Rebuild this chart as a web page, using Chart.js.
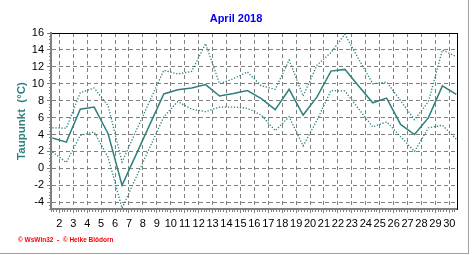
<!DOCTYPE html>
<html><head><meta charset="utf-8">
<script src="https://cdn.jsdelivr.net/npm/chart.js@4/dist/chart.umd.min.js"></script>
<style>
html,body{margin:0;padding:0;background:#fff;}
#wrap{position:relative;width:472px;height:255px;overflow:hidden;background:#fff;}
#c{position:absolute;left:0;top:0;}
#frame{position:absolute;left:0;top:0;width:468px;height:253px;border-right:1px solid #a0a0a0;border-bottom:1px solid #a0a0a0;pointer-events:none;}
#foot{position:absolute;left:18px;top:236px;font:bold 6.5px Arial,'Liberation Sans',sans-serif;color:#ff0000;white-space:nowrap;}
</style></head><body>
<div id="wrap"><canvas id="c" width="472" height="255"></canvas><div id="frame"></div><div id="foot">© WsWin32 &nbsp;- &nbsp;© Heike Blödorn</div></div>
<script>
const days = [1,2,3,4,5,6,7,8,9,10,11,12,13,14,15,16,17,18,19,20,21,22,23,24,25,26,27,28,29,30];
const dewMean = [3.6,3.1,7.0,7.25,4.1,-2.0,1.6,5.2,8.8,9.3,9.5,9.9,8.55,8.85,9.2,8.25,6.95,9.35,6.3,8.45,11.5,11.7,9.7,7.75,8.3,5.2,4.0,6.0,9.75,8.75];
const dewMax = [4.8,4.75,8.95,9.5,7.4,0.75,4.4,8.0,11.6,11.15,11.45,14.75,10.0,10.6,11.4,9.75,9.35,12.8,8.55,12.2,13.7,15.85,12.9,10.0,10.2,8.0,5.75,7.9,14.0,13.2];
const dewMin = [1.95,0.7,3.9,4.3,1.3,-4.7,-1.1,2.5,6.1,7.9,7.0,6.7,7.25,7.25,7.1,6.3,4.45,6.1,2.65,5.7,9.2,9.15,7.0,4.9,5.5,3.75,2.0,4.8,5.1,3.45];
const xTickLabels = [2,3,4,5,6,7,8,9,10,11,12,13,14,15,16,17,18,19,20,21,22,23,24,25,26,27,28,29,30];
const yTickLabels = [-4,-2,0,2,4,6,8,10,12,14,16];

const TEAL = '#2f7f7f';
const GRIDC = '#808080';
const FONT = "Arial, 'Liberation Sans', sans-serif";
Chart.defaults.font.family = FONT;

const XMIN = 1.4, XMAX = 30.55, YMIN = -4.8, YMAX = 16;
function pts(arr){ return days.map((d,i)=>({x:d+0.5, y:arr[i]})); }
function minorTicks(lo, hi, step){ const t=[]; for(let i=0;;i++){ const v=+(lo+i*step).toFixed(4); if(v>hi+1e-9) break; t.push({value:v}); } return t; }

new Chart(document.getElementById('c'), {
  type: 'line',
  data: {
    datasets: [
      {label:'Max', data: pts(dewMax), borderColor: TEAL, borderWidth: 1.3, borderDash:[1.3,1.7], pointRadius:0, fill:false, tension:0, xAxisID:'x', yAxisID:'y'},
      {label:'Mittel', data: pts(dewMean), borderColor: TEAL, borderWidth: 1.5, pointRadius:0, fill:false, tension:0, xAxisID:'x', yAxisID:'y'},
      {label:'Min', data: pts(dewMin), borderColor: TEAL, borderWidth: 1.3, borderDash:[1.3,1.7], pointRadius:0, fill:false, tension:0, xAxisID:'x', yAxisID:'y'}
    ]
  },
  options: {
    responsive: false,
    animation: false,
    events: [],
    layout: {padding: 0},
    plugins: {
      legend: {display:false},
      tooltip: {enabled:false},
      title: {display:true, text:'April 2018', color:'#0000ff', font:{size:11, weight:'bold', family:FONT}, padding:{top:12, bottom:7.8}}
    },
    scales: {
      x: {
        type:'linear', position:'bottom', min:XMIN, max:XMAX, weight:1,
        afterBuildTicks: s => { s.ticks = xTickLabels.map(v=>({value:v})); },
        afterFit: s => { s.height = 46; },
        ticks: {autoSkip:false, maxRotation:0, minRotation:0, color:'#000', font:{size:11}, padding:4, callback: v => String(v)},
        grid: {color:GRIDC, lineWidth:1, tickLength:4, tickColor:GRIDC, drawTicks:true},
        border: {color:GRIDC, width:2, dash:[4,3]}
      },
      xMinor: {
        type:'linear', position:'bottom', min:XMIN, max:XMAX, weight:0,
        afterBuildTicks: s => { s.ticks = minorTicks(XMIN, XMAX, 0.2); },
        afterFit: s => { s.height = 0; },
        ticks: {display:false, autoSkip:false},
        grid: {drawOnChartArea:false, drawTicks:true, tickLength:3, tickColor:GRIDC, lineWidth:1},
        border: {display:false}
      },
      xTop: {
        type:'linear', position:'top', min:XMIN, max:XMAX,
        afterFit: s => { s.height = 0; },
        ticks: {display:false},
        grid: {display:false},
        border: {display:true, color:'#000', width:1}
      },
      y: {
        type:'linear', position:'left', min:YMIN, max:YMAX, weight:1,
        afterBuildTicks: s => { s.ticks = yTickLabels.map(v=>({value:v})); },
        afterFit: s => { s.width = 51; },
        ticks: {color:'#000', font:{size:11}, padding:3},
        grid: {color:GRIDC, lineWidth:1, tickLength:4, tickColor:GRIDC},
        border: {color:GRIDC, width:2, dash:[4,3]},
        title: {display:true, text:'Taupunkt  (°C)', color:TEAL, font:{size:11.5, weight:'bold', family:FONT}, padding:{top:15, bottom:0}}
      },
      yMinor: {
        type:'linear', position:'left', min:YMIN, max:YMAX, weight:0,
        afterBuildTicks: s => { s.ticks = minorTicks(YMIN, YMAX, 0.4); },
        afterFit: s => { s.width = 0; },
        ticks: {display:false, autoSkip:false},
        grid: {drawOnChartArea:false, drawTicks:true, tickLength:2, tickColor:GRIDC, lineWidth:1},
        border: {display:false}
      },
      yRight: {
        type:'linear', position:'right', min:YMIN, max:YMAX,
        afterFit: s => { s.width = 15; },
        ticks: {display:false},
        grid: {display:false},
        border: {display:true, color:'#000', width:1}
      }
    }
  }
});
</script>
</body></html>
